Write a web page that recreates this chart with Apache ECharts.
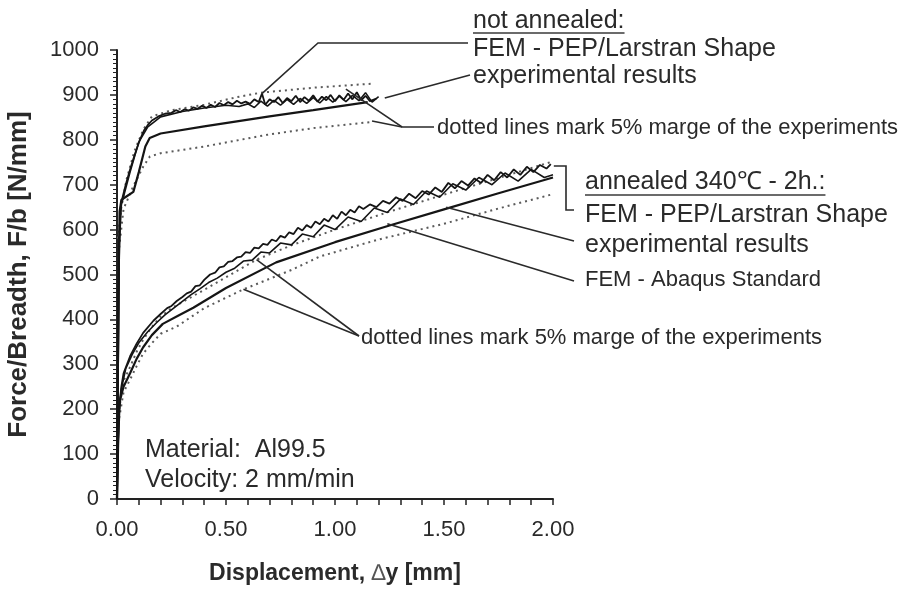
<!DOCTYPE html>
<html><head><meta charset="utf-8">
<script src="https://cdn.jsdelivr.net/npm/echarts@6/dist/echarts.min.js"></script>
<style>html,body{margin:0;padding:0;background:#fff}#c{width:909px;height:590px}</style>
</head><body><div id="c"></div>
<script>
// ---------- data (x = displacement mm, y = force/breadth N/mm) ----------
const xTickLabels = ['0.00','0.50','1.00','1.50','2.00'];
const yTickLabels = ['0','100','200','300','400','500','600','700','800','900','1000'];

// not annealed
const naExp = [[0,0],[0.005,300],[0.01,560],[0.015,640],[0.02,661],[0.04,700],[0.06,734],[0.08,765],[0.105,800],[0.125,822],[0.14,832],[0.16,843],[0.19,852],[0.22,858],[0.25,860],[0.27,866],[0.29,862],[0.31,868],[0.33,865],[0.35,872],[0.37,869],[0.39,876],[0.41,871],[0.43,878],[0.45,873],[0.47,882],[0.49,877],[0.51,884],[0.53,879],[0.55,887],[0.57,881],[0.59,885],[0.61,880],[0.63,890],[0.65,884],[0.665,903],[0.68,878],[0.70,890],[0.72,884],[0.74,895],[0.76,882],[0.78,893],[0.80,886],[0.82,898],[0.84,884],[0.86,895],[0.88,887],[0.90,899],[0.92,885],[0.94,896],[0.96,888],[0.98,900],[1.00,886],[1.02,899],[1.04,889],[1.06,903],[1.08,890],[1.10,906],[1.12,888],[1.14,898],[1.16,886],[1.19,892]];
const naExp2 = [[0,0],[0.006,320],[0.011,570],[0.02,655],[0.06,728],[0.10,795],[0.14,828],[0.2,851],[0.3,863],[0.4,871],[0.5,877],[0.56,874],[0.6,880],[0.63,872],[0.66,886],[0.69,875],[0.72,888],[0.75,877],[0.78,890],[0.81,879],[0.84,892],[0.87,881],[0.90,894],[0.93,882],[0.96,896],[0.99,884],[1.02,897],[1.05,885],[1.08,899],[1.11,887],[1.14,905],[1.17,884],[1.2,896]];
const naFem = [[0,0],[0.006,450],[0.012,640],[0.02,666],[0.05,676],[0.075,684],[0.1,728],[0.13,785],[0.15,804],[0.2,814],[0.4,830],[0.7,852],[0.9,866],[1.15,884]];
const naUpper = [[0.005,580],[0.02,650],[0.044,712],[0.08,775],[0.12,822],[0.16,852],[0.25,866],[0.4,878],[0.55,895],[0.66,905],[0.9,916],[1.17,925]];
const naLower = [[0.01,560],[0.03,646],[0.075,697],[0.12,740],[0.151,763],[0.2,770],[0.4,785],[0.687,811],[0.9,826],[1.175,840]];

// annealed 340°C - 2h
const anExp = [[0,0],[0.005,130],[0.01,205],[0.02,250],[0.03,280],[0.06,318],[0.09,346],[0.12,370],[0.167,397],[0.2,412],[0.23,425],[0.25,430],[0.274,441],[0.3,450],[0.32,458],[0.34,462],[0.36,474],[0.38,476],[0.40,488],[0.427,500],[0.45,504],[0.47,516],[0.49,518],[0.51,528],[0.53,530],[0.55,538],[0.57,540],[0.59,550],[0.61,548],[0.63,560],[0.65,558],[0.67,568],[0.69,566],[0.71,578],[0.73,574],[0.75,586],[0.77,582],[0.79,594],[0.81,590],[0.83,604],[0.85,598],[0.87,610],[0.89,604],[0.91,618],[0.93,612],[0.95,624],[0.97,618],[0.99,632],[1.01,624],[1.03,640],[1.05,632],[1.07,644],[1.09,638],[1.11,652],[1.13,646],[1.16,656],[1.19,650],[1.22,664],[1.25,658],[1.28,672],[1.31,664],[1.34,680],[1.37,670],[1.40,686],[1.43,678],[1.46,694],[1.49,684],[1.52,704],[1.55,692],[1.58,708],[1.61,698],[1.64,714],[1.67,704],[1.70,722],[1.73,710],[1.76,728],[1.79,716],[1.82,734],[1.85,722],[1.88,740],[1.91,728],[1.94,744],[1.97,736],[1.99,746]];
const anFemShape = [[0,0],[0.005,125],[0.01,200],[0.02,245],[0.04,290],[0.07,322],[0.1,348],[0.14,372],[0.18,392],[0.22,410],[0.26,425],[0.30,440],[0.34,455],[0.38,468],[0.42,482],[0.46,492],[0.50,505],[0.54,514],[0.58,530],[0.62,532],[0.66,550],[0.70,548],[0.75,570],[0.80,566],[0.85,590],[0.90,584],[0.95,610],[1.00,600],[1.06,628],[1.12,618],[1.18,648],[1.24,638],[1.30,668],[1.36,656],[1.42,686],[1.48,672],[1.54,702],[1.60,688],[1.66,716],[1.72,700],[1.78,726],[1.84,708],[1.90,734],[1.96,716],[2.0,722]];
const anFemAbaqus = [[0,0],[0.005,120],[0.01,190],[0.014,221],[0.03,250],[0.06,280],[0.09,312],[0.12,338],[0.16,365],[0.21,390],[0.28,408],[0.35,426],[0.5,470],[0.73,527],[1.0,572],[1.25,609],[1.5,645],[1.75,681],[2.0,716]];
const anUpper = [[0.01,200],[0.03,263],[0.06,294],[0.09,328],[0.12,355],[0.16,383],[0.197,405],[0.25,425],[0.335,448],[0.5,494],[0.64,533],[0.8,565],[1.0,600],[1.25,640],[1.5,678],[1.75,715],[2.0,752]];
const anLower = [[0.01,180],[0.03,238],[0.06,266],[0.09,296],[0.12,324],[0.16,347],[0.2,368],[0.274,384],[0.4,425],[0.58,467],[0.8,510],[0.93,540],[1.2,578],[1.5,613],[1.75,647],[2.0,679]];

// annotation anchor points on the curves (data coordinates)
const anchorNaFem = [0.665, 903];
const anchorNaExp = [1.21, 893];
const anchorNaDotU = [1.05, 913];
const anchorNaDotL = [1.17, 842];
const anchorAnShape = [1.99, 746];
const anchorAnExp = [1.51, 650];
const anchorAnAbaqus = [1.24, 613];
const anchorAnDotU = [0.64, 533];
const anchorAnDotL = [0.58, 467];

// ---------- chart ----------
const FONT = '"Liberation Sans", Arial, sans-serif';
const TXT = '#2a2a2a';
const chart = echarts.init(document.getElementById('c'), null, {renderer: 'canvas'});

function solid(name, data, w) {
  return {name, type: 'line', data, showSymbol: false, symbol: 'none', silent: true,
    lineStyle: {color: '#151515', width: w || 2}, z: 3};
}
function dotted(name, data) {
  return {name, type: 'line', data, showSymbol: false, symbol: 'none', silent: true,
    lineStyle: {color: '#5a5a5a', width: 2, type: [2, 4]}, z: 2};
}

chart.setOption({
  animation: false,
  backgroundColor: '#fff',
  grid: {left: 117, right: 356, top: 50, bottom: 86, containLabel: false},
  xAxis: {
    type: 'value', min: 0, max: 2, interval: 0.5,
    name: '{b|Displacement, }{d|\u2206}{b|y [mm]}', nameLocation: 'middle', nameGap: 63,
    nameTextStyle: {fontFamily: FONT, fontSize: 23, fontWeight: 'bold', color: TXT,
      rich: {b: {fontFamily: FONT, fontSize: 23, fontWeight: 'bold', color: TXT},
             d: {fontFamily: FONT, fontSize: 23, fontWeight: 'normal', color: '#555'}}},
    axisLine: {lineStyle: {color: '#222', width: 2}},
    axisTick: {show: true, length: 6, lineStyle: {color: '#222', width: 1.5}},
    minorTick: {show: true, splitNumber: 5, length: 6, lineStyle: {color: '#222', width: 1.5}},
    splitLine: {show: false},
    axisLabel: {fontFamily: FONT, fontSize: 22, color: TXT, margin: 20,
      formatter: v => xTickLabels[Math.round(v / 0.5)] || ''}
  },
  yAxis: {
    type: 'value', min: 0, max: 1000, interval: 100,
    name: 'Force/Breadth, F/b [N/mm]', nameLocation: 'middle', nameGap: 85, nameRotate: 90,
    nameTextStyle: {fontFamily: FONT, fontSize: 26, fontWeight: 'bold', color: TXT},
    axisLine: {lineStyle: {color: '#222', width: 2}},
    axisTick: {show: true, length: 7, lineStyle: {color: '#222', width: 1.5}},
    minorTick: {show: true, splitNumber: 10, length: 4, lineStyle: {color: '#222', width: 1}},
    splitLine: {show: false},
    axisLabel: {fontFamily: FONT, fontSize: 22, color: TXT, margin: 18,
      formatter: v => yTickLabels[Math.round(v / 100)] || ''}
  },
  series: [
    dotted('naUpper', naUpper), dotted('naLower', naLower),
    dotted('anUpper', anUpper), dotted('anLower', anLower),
    solid('naFem', naFem, 2.2), solid('naExp', naExp, 1.8), solid('naExp2', naExp2, 1.6),
    solid('anFemAbaqus', anFemAbaqus, 2.2), solid('anFemShape', anFemShape, 1.6), solid('anExp', anExp, 1.8)
  ]
});

// ---------- annotations ----------
const meas = document.createElement('canvas').getContext('2d');
function tw(s, size) { meas.font = size + 'px "Liberation Sans"'; return meas.measureText(s).width; }
function P(d) { return chart.convertToPixel({gridIndex: 0}, d); }
function text(s, x, y, size, extra) {
  return Object.assign({type: 'text', x, y, silent: true, z: 10,
    style: {text: s, fontFamily: FONT, fontSize: size, fill: TXT, textVerticalAlign: 'middle', verticalAlign: 'middle'}}, extra || {});
}
function line(points, w) {
  return {type: 'polyline', silent: true, z: 9, shape: {points},
    style: {stroke: '#2a2a2a', lineWidth: w || 1.6, fill: null}};
}
function underline(s, x, y, size) {
  return {type: 'line', silent: true, z: 10, shape: {x1: x, y1: y, x2: x + tw(s, size), y2: y},
    style: {stroke: '#3a3a3a', lineWidth: 1.5}};
}

const BIG = 25, SMALL = 22;
const g = [];
// not annealed block
g.push(text('not annealed:', 473, 21, BIG));
g.push(underline('not annealed:', 473, 33, BIG));
g.push(text('FEM - PEP/Larstran Shape', 473, 49, BIG));
g.push(text('experimental results', 473, 76, BIG));
g.push(text('dotted lines mark 5% marge of the experiments', 437, 128, SMALL));
let p = P(anchorNaFem);
g.push(line([p, [318, 43], [468, 43]]));
p = P(anchorNaExp);
g.push(line([[p[0] + 4, p[1]], [470, 75]]));
g.push(line([P(anchorNaDotU), [402, 127], [434, 127]]));
g.push(line([P(anchorNaDotL), [402, 127]]));
// annealed block
g.push(text('annealed 340\u2103 - 2h.:', 585, 182, BIG));
g.push(underline('annealed 340\u2103 - 2h.:', 585, 195, BIG));
g.push(text('FEM - PEP/Larstran Shape', 585, 215, BIG));
g.push(text('experimental results', 585, 245, BIG));
g.push(text('FEM - Abaqus Standard', 585, 280, SMALL));
g.push(text('dotted lines mark 5% marge of the experiments', 361, 338, SMALL));
p = P(anchorAnShape);
g.push(line([[p[0] + 3, p[1] + 2], [566, p[1] + 2], [566, 210], [574, 210]]));
g.push(line([P(anchorAnExp), [574, 241]]));
g.push(line([P(anchorAnAbaqus), [574, 281]]));
g.push(line([P(anchorAnDotU), [359, 336]]));
g.push(line([P(anchorAnDotL), [359, 336]]));
// material box
g.push(text('Material:  Al99.5', 145, 450, 25));
g.push(text('Velocity: 2 mm/min', 145, 480, 25));

chart.setOption({graphic: {elements: g}});
</script></body></html>
